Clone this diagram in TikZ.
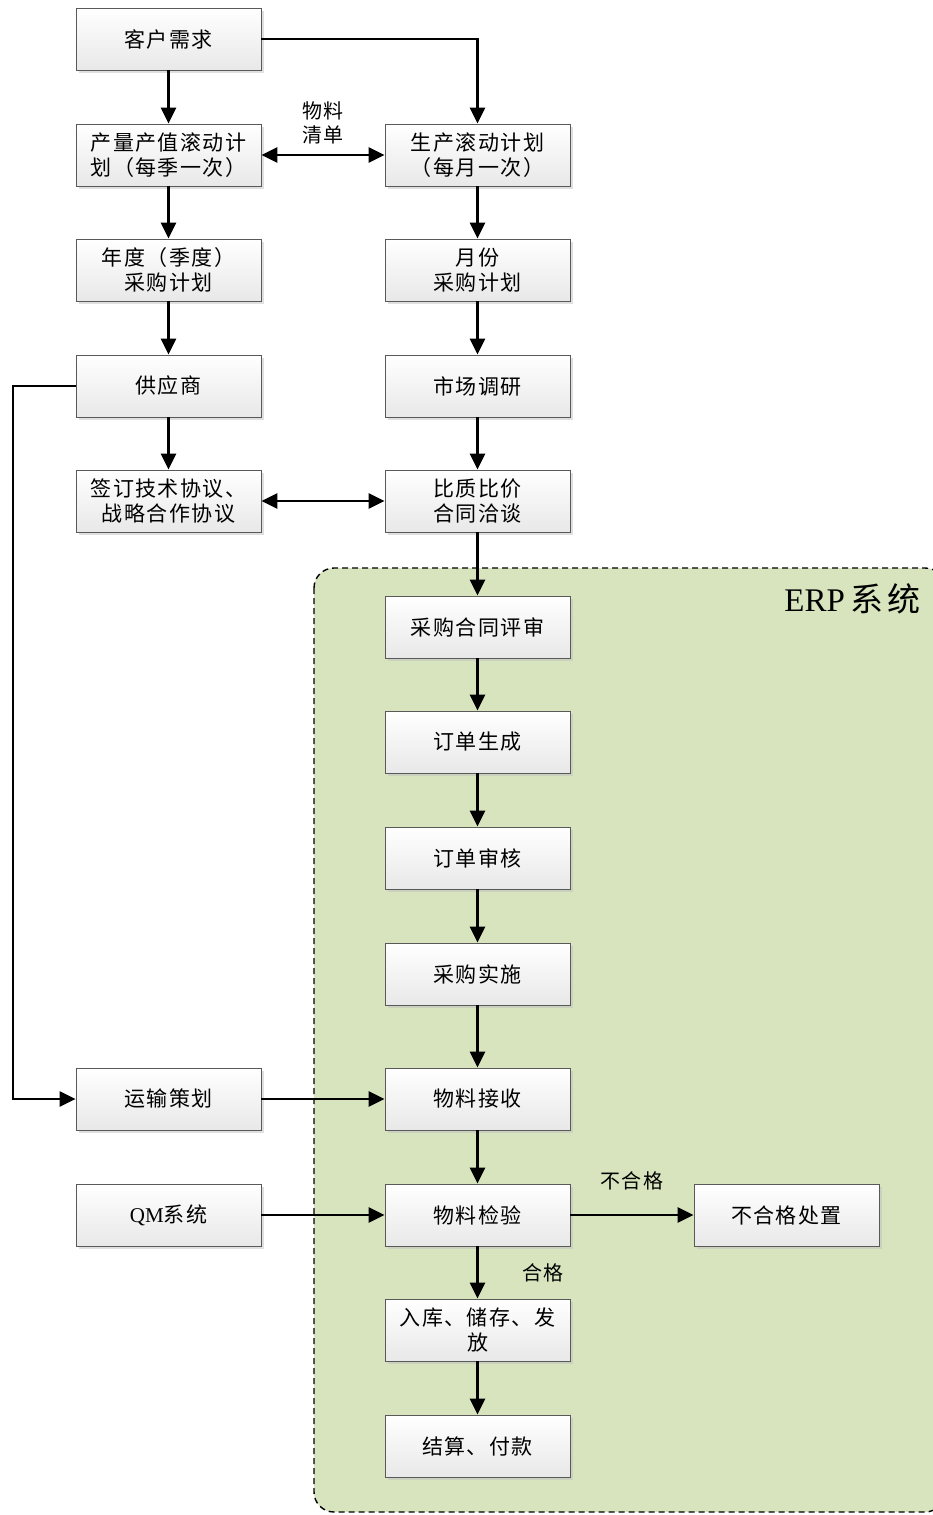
\documentclass[tikz,border=0pt]{standalone}
\usepackage{fontspec}
\setmainfont{Liberation Serif}
\newfontfamily\cjk[LetterSpace=7]{Noto Sans CJK SC}
\usetikzlibrary{arrows.meta,shadows,positioning}
\definecolor{erpgreen}{HTML}{D7E4BD}
\definecolor{boxline}{HTML}{595959}
\begin{document}
\begin{tikzpicture}[x=1pt,y=-1pt,
  box/.style={draw=boxline,line width=0.8pt,minimum width=185pt,minimum height=62pt,
    top color=white,bottom color=black!9,align=center,inner sep=1pt,
    font=\fontsize{21}{25.5}\selectfont\cjk,
    drop shadow={shadow xshift=3pt,shadow yshift=-3pt,fill=black!25,opacity=0.5}},
  arr/.style={line width=2.8pt,-{Triangle[length=16pt,width=15pt]}},
  darr/.style={line width=2.8pt,{Triangle[length=16pt,width=15pt]}-{Triangle[length=16pt,width=15pt]}},
  lbl/.style={font=\fontsize{20}{24}\selectfont\cjk,align=center}]
\useasboundingbox (0,0) rectangle (933,1515);
% ERP region
\draw[fill=erpgreen,line width=1.4pt,rounded corners=20pt,dash pattern=on 6pt off 4pt]
  (314,568) rectangle (945,1512);
\node[anchor=east,font=\fontsize{33}{35}\selectfont] (erp) at (924,599) {ERP\,{\cjk 系\hspace{4pt}统}};
% left column
\node[box] (kh) at (168.5,39) {客户需求};
\node[box] (cl) at (168.5,155) {产量产值滚动计\\划（每季一次）};
\node[box] (nd) at (168.5,270) {年度（季度）\\采购计划};
\node[box] (gys) at (168.5,386) {供应商};
\node[box] (qd) at (168.5,501) {签订技术协议、\\战略合作协议};
\node[box] (ys) at (168.5,1099) {运输策划};
\node[box,font=\fontsize{21}{25}\selectfont] (qm) at (168.5,1215) {QM{\cjk 系统}};
% right column
\node[box] (sc) at (477.5,155) {生产滚动计划\\（每月一次）};
\node[box] (yf) at (477.5,270) {月份\\采购计划};
\node[box] (dy) at (477.5,386) {市场调研};
\node[box] (bz) at (477.5,501) {比质比价\\合同洽谈};
\node[box] (ps) at (477.5,627) {采购合同评审};
\node[box] (dd) at (477.5,742) {订单生成};
\node[box] (sh) at (477.5,858) {订单审核};
\node[box] (ss) at (477.5,974) {采购实施};
\node[box] (js) at (477.5,1099) {物料接收};
\node[box] (jy) at (477.5,1215) {物料检验};
\node[box] (rk) at (477.5,1330) {入库、储存、发\\放};
\node[box] (fk) at (477.5,1446) {结算、付款};
\node[box] (bhg) at (786.5,1215) {不合格处置};
% arrows
\draw[arr] (kh) -- (cl);
\draw[arr] (kh.east) -| (sc.north);
\draw[arr] (cl) -- (nd);
\draw[arr] (nd) -- (gys);
\draw[arr] (gys) -- (qd);
\draw[darr] (cl) -- (sc) node[midway,lbl,above=6pt] (wl) {物料\\清单};
\draw[arr] (sc) -- (yf);
\draw[arr] (yf) -- (dy);
\draw[arr] (dy) -- (bz);
\draw[darr] (qd) -- (bz);
\draw[arr] (bz) -- (ps);
\draw[arr] (ps) -- (dd);
\draw[arr] (dd) -- (sh);
\draw[arr] (sh) -- (ss);
\draw[arr] (ss) -- (js);
\draw[arr] (js) -- (jy);
\draw[arr] (jy) -- (rk) node[midway,lbl,right=40pt] (hg) {合格};
\draw[arr] (rk) -- (fk);
\draw[arr] (jy) -- (bhg) node[midway,lbl,above=20pt] (bhgl) {不合格};
\draw[arr] (ys) -- (js);
\draw[arr] (qm) -- (jy);
\coordinate (lc) at (13,386);
\draw[arr,line width=2.4pt] (gys.west) -- (lc) |- (ys.west);
\end{tikzpicture}
\end{document}
